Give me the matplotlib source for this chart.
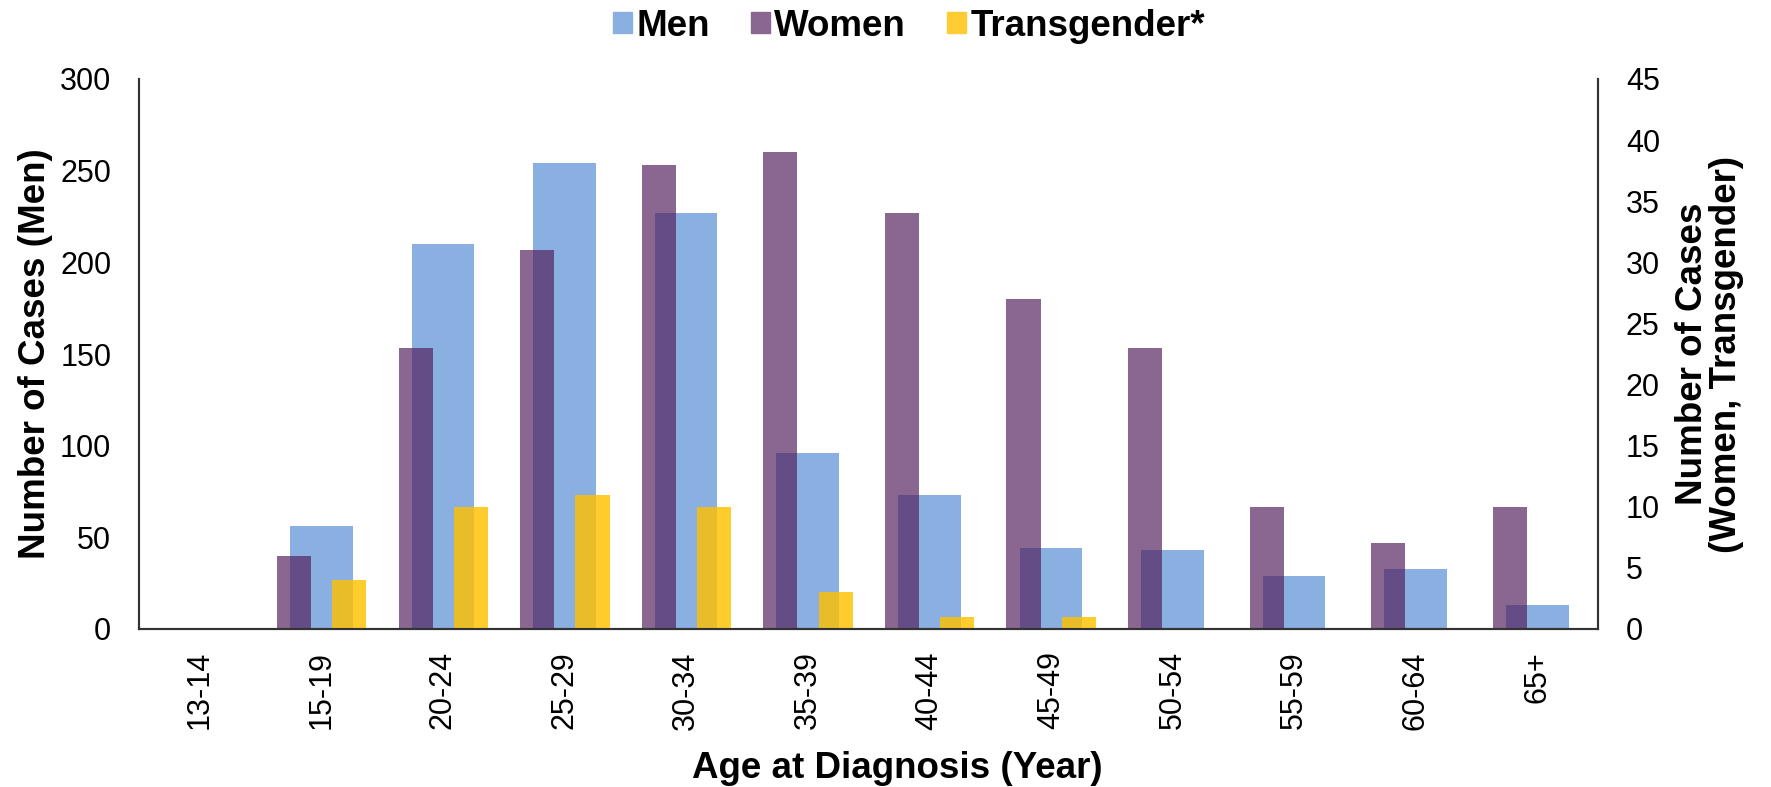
import matplotlib
matplotlib.use('Agg')
import matplotlib.pyplot as plt
from matplotlib.patches import Patch
import numpy as np

plt.rcParams['font.family'] = ['Liberation Sans', 'DejaVu Sans']

# data
age_groups = ['13-14', '15-19', '20-24', '25-29', '30-34', '35-39',
              '40-44', '45-49', '50-54', '55-59', '60-64', '65+']
men = [0, 56, 210, 254, 227, 96, 73, 44, 43, 29, 33, 13]
women = [0, 6, 23, 31, 38, 39, 34, 27, 23, 10, 7, 10]
transgender = [0, 4, 10, 11, 10, 3, 1, 1, 0, 0, 0, 0]

men_color = '#8AB0E2'
women_color = '#531F5C'
trans_color = '#FFC100'

fig = plt.figure(figsize=(17.71, 7.87), dpi=100)
ax = fig.add_axes([139 / 1771, 1 - 629 / 787, (1598 - 139) / 1771, (629 - 79) / 787])
ax2 = ax.twinx()

x = np.arange(len(age_groups))
ax.bar(x, men, width=0.515, color=men_color, zorder=2)
ax2.bar(x - 0.225, women, width=0.28, color=women_color, alpha=0.68, zorder=2)
ax2.bar(x + 0.23, transgender, width=0.28, color=trans_color, alpha=0.82, zorder=2)

ax.set_xlim(-0.5, len(age_groups) - 0.5)
ax.set_ylim(0, 300)
ax2.set_ylim(0, 45)
ax.set_yticks(range(0, 301, 50))
ax2.set_yticks(range(0, 46, 5))
ax.set_xticks(x)
ax.set_xticklabels(age_groups, rotation=90)

for a in (ax, ax2):
    a.spines['top'].set_visible(False)
    for s in ('left', 'right', 'bottom'):
        a.spines[s].set_color('#333333')
        a.spines[s].set_linewidth(1.5)
ax.tick_params(axis='y', length=0, labelsize=22, pad=20)
ax.tick_params(axis='x', length=0, labelsize=22, pad=16)
ax2.tick_params(axis='y', length=0, labelsize=22, pad=20)

ax.set_ylabel('Number of Cases (Men)', fontsize=26.5, fontweight='bold')
ax.yaxis.set_label_coords(-0.059, 0.5)
ax2.set_ylabel('Number of Cases\n(Women, Transgender)', fontsize=26.5,
               fontweight='bold', linespacing=0.95)
ax2.yaxis.set_label_coords(1.053, 0.5)
ax.set_xlabel('Age at Diagnosis (Year)', fontsize=26.5, fontweight='bold')
ax.xaxis.set_label_coords(0.52, -0.222)

handles = [Patch(color=men_color, label='Men'),
           Patch(color='#8A6790', label='Women'),
           Patch(color='#FFCC33', label='Transgender*')]
fig.legend(handles=handles, loc='center', bbox_to_anchor=(909 / 1771, 1 - 26 / 787),
           ncol=3, frameon=False, prop={'weight': 'bold', 'size': 26.5},
           handlelength=0.52, handleheight=0.52, handletextpad=0.12,
           columnspacing=1.1, borderaxespad=0, borderpad=0)

fig.savefig('out.png', dpi=100)
